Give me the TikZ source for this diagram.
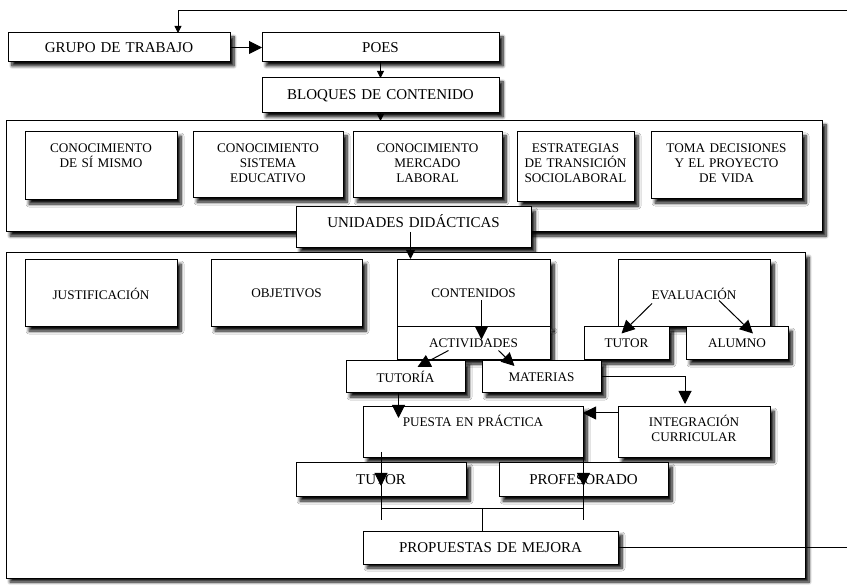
\documentclass[tikz,border=0pt]{standalone}
\usepackage{fontspec}
\setmainfont{Liberation Serif}
\usetikzlibrary{arrows.meta,calc,shadows.blur}

\begin{document}
\begin{tikzpicture}[x=1pt, y=-1pt,
		box/.style={draw, fill=white, line width=1pt, anchor=north west,
			inner sep=0pt, outer sep=0pt, align=center, text width=#1pt,
			font=\fontsize{13.2}{15}\selectfont,
			blur shadow={shadow xshift=4pt, shadow yshift=-4pt,
				shadow blur radius=3pt, shadow blur steps=8, shadow opacity=95}},
		big/.style={font=\fontsize{15}{17}\selectfont},
		tipB/.style={line width=1pt, -{Triangle[length=13pt,width=13pt]}},
		tipM/.style={line width=1pt, -{Triangle[length=9pt,width=9pt]}},
		tipS/.style={line width=0.8pt, -{Triangle[length=7pt,width=7pt]}},
		wire/.style={line width=0.8pt}]

		%%% fixes the page to the reference size
		\useasboundingbox (0,0) rectangle (847,585);

		%% Top row
		\node[box=222, big, minimum height=29] (grupo) at (8,33) {GRUPO DE TRABAJO};
		\node[box=237, big, minimum height=29] (poes) at (262,33) {POES};
		\node[box=237, big, minimum height=35] (bloques) at (262,78) {BLOQUES DE CONTENIDO};

		% BLOQUES
		\node[box=816, minimum height=111] (areas) at (6,121) {};
		\node[box=152, text height=21pt, text depth=47pt] (mismo) at (25,132) {
			CONOCIMIENTO\\DE SÍ MISMO};
		\node[box=150, text height=21pt, text depth=45pt] (sistema) at (193,132) {
			CONOCIMIENTO\\SISTEMA\\EDUCATIVO};
		\node[box=149, text height=21pt, text depth=45pt] (mercado) at (353,132) {
			CONOCIMIENTO\\MERCADO\\LABORAL};
		\node[box=117, text height=21pt, text depth=49pt] (transicion) at (517,132) {
			ESTRATEGIAS\\DE TRANSICIÓN\\SOCIOLABORAL};
		\node[box=151, text height=21pt, text depth=46pt] (vida) at (651,132) {
			TOMA DECISIONES\\Y EL PROYECTO\\DE VIDA};

		% UNIDADES DIDACTICAS
		\node[box=235, big, text height=21pt, text depth=20pt] (uni) at (296,207) {UNIDADES DIDÁCTICAS};
		\node[box=799, minimum height=325] (ud) at (6,253) {};
		\node[box=152, minimum height=67] (just) at (25,260) {JUSTIFICACIÓN};
		\node[box=151, minimum height=67] (obj) at (211,260) {OBJETIVOS};
		\node[box=153, minimum height=67] (cont) at (397,260) {CONTENIDOS};
		\node[box=152, minimum height=67] (eval) at (618,260) {EVALUACIÓN};
		\node[box=153, minimum height=33] (act) at (397,327) {ACTIVIDADES};
		\node[box=85, minimum height=33] (tutor) at (584,327) {TUTOR};
		\node[box=102, minimum height=33] (alumno) at (686,327) {ALUMNO};
		\node[box=119, minimum height=32] (tutoria) at (346,361) {TUTORÍA};
		\node[box=119, minimum height=32] (materias) at (482,361) {MATERIAS};

		% PUESTA EN PRACTICA
		\node[box=220, text height=20pt, text depth=31pt] (puesta) at (363,407) {PUESTA EN PRÁCTICA};
		\node[box=152, text height=20pt, text depth=31pt] (integ) at (618,407) {
			INTEGRACIÓN\\CURRICULAR};
		\node[box=170, big, minimum height=34] (tutorB) at (296,463) {TUTOR};
		\node[box=169, big, minimum height=34] (profe) at (499,463) {PROFESORADO};
		\node[box=255, big, minimum height=33] (mejora) at (363,531) {PROPUESTAS DE MEJORA};

		%% Connectors
		\coordinate (back) at (850,10);
		\coordinate (gin) at (178,0);
		\draw[tipS] (mejora.east) -| (back) -| (gin |- grupo.north);
		\draw[tipB] (grupo.east) -- (poes.west);
		\draw[tipS] (poes.south) -- (bloques.north);
		\draw[tipS] (bloques.south) -- (bloques.south |- areas.north);
		\draw[tipM] ($(uni.center |- areas.south)+(-3,0)$) -- ($(uni.center |- cont.north)+(-3,-1)$);

		% contenidos / actividades
		\draw[tipB] ($(cont.center)+(8,7)$) -- ($(act.center)+(8,-4)$);
		\draw[tipB] ($(act.center)+(-25,7)$) -- ($(tutoria.center)+(12,-10)$);
		\draw[tipB] ($(act.center)+(25,7)$) -- ($(materias.center)+(-27,-11)$);

		% evaluacion
		\draw[tipB] ($(eval.center)+(-42,10)$) -- ($(tutor.center)+(-5,-10)$);
		\draw[tipB] ($(eval.center)+(25,7)$) -- ($(alumno.center)+(16,-10)$);

		% puesta en practica
		\draw[tipB] (materias.east) -| ($(integ.north)+(-9,-3)$);
		\draw[tipB] ($(tutoria.south)+(-7,0)$) -- ($(tutoria.south |- puesta.north)+(-7,11)$);
		\draw[tipB] ($(integ.north west)+(0,6)$) -- ($(puesta.north east)+(0,6)$);
		\draw[tipB] ($(tutorB.center |- puesta.south)+(0,-6)$) -- ($(tutorB.center)+(0,6)$);
		\draw[tipB] ($(profe.center |- puesta.south)+(0,-6)$) -- ($(profe.center)+(0,6)$);

		% propuestas
		\draw[wire] (tutorB.center) -- ($(tutorB.center)+(0,40)$);
		\draw[wire] (profe.center) -- ($(profe.center)+(0,40)$);
		\draw[wire] ($(tutorB.center)+(0,28)$) -- ($(profe.center)+(0,28)$);
		\draw[wire] ($(mejora.north)+(-8,-23)$) -- ($(mejora.north)+(-8,0)$);
	\end{tikzpicture}
\end{document}
